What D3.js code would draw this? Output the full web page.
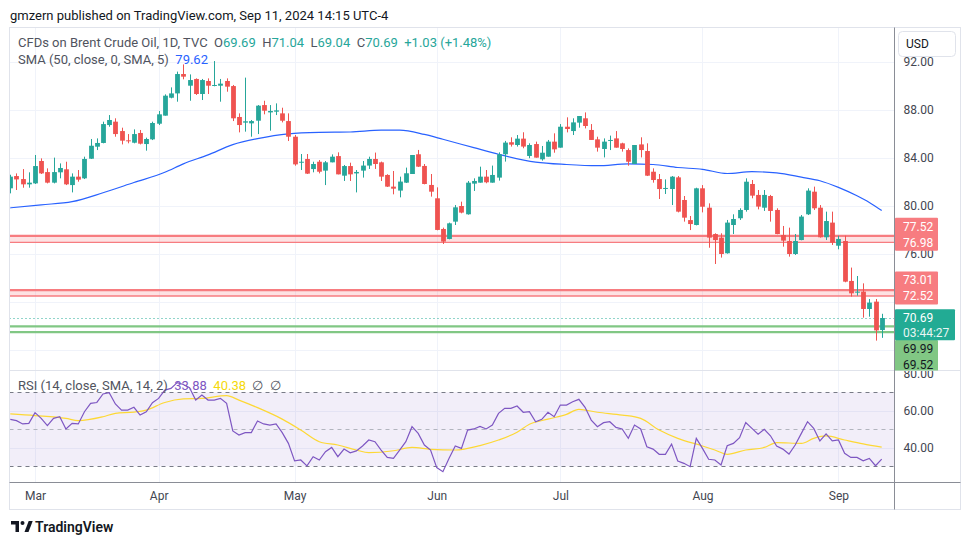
<!DOCTYPE html>
<html><head><meta charset="utf-8">
<script src="https://cdn.jsdelivr.net/npm/d3@7/dist/d3.min.js"></script>
<style>
html,body{margin:0;padding:0;background:#fff;}
svg{display:block;font-family:Roboto,"Noto Sans",sans-serif;}
</style></head><body>
<svg id="c" width="970" height="545"></svg>
<script>
// ---------- DATA ----------
const opens=[81.47,82.49,82.24,81.80,81.88,83.74,82.82,81.94,82.80,83.05,81.74,82.44,82.30,83.93,84.93,85.24,86.73,87.01,86.23,85.46,85.26,86.07,85.15,85.54,86.84,87.51,89.00,89.36,90.97,90.00,90.56,89.31,90.39,90.00,90.00,90.39,89.97,87.40,86.93,86.87,87.09,88.39,87.78,87.84,87.70,87.06,85.76,83.60,83.91,83.07,83.68,82.94,83.63,84.15,82.52,83.32,82.71,82.94,83.36,83.91,83.63,82.58,81.61,81.28,81.94,82.66,84.30,83.33,81.75,80.64,78.09,77.26,78.70,80.00,79.31,81.86,81.94,82.44,81.94,82.36,84.30,85.30,85.07,85.60,84.16,85.15,83.88,84.10,85.35,84.85,86.59,86.23,86.93,87.29,86.32,85.54,84.74,85.43,85.62,85.21,84.65,83.49,85.12,84.57,82.85,82.24,81.44,81.41,82.38,80.50,78.83,78.42,81.47,79.86,77.67,77.37,76.07,78.42,78.98,79.67,81.83,80.92,79.86,80.83,79.67,77.59,77.09,76.01,77.17,79.31,81.19,79.86,77.40,78.62,76.70,77.09,73.77,72.80,72.88,71.44,72.05,69.69];
const highs=[82.60,82.71,83.07,82.80,84.24,83.96,83.13,84.02,83.54,83.68,82.71,82.99,84.10,85.57,85.62,87.01,87.56,87.29,86.51,85.98,86.37,86.32,85.68,87.01,87.90,89.28,89.86,91.17,91.77,90.94,90.61,90.56,90.61,92.05,90.56,90.61,90.06,87.70,90.67,87.15,88.39,88.75,88.39,88.53,88.17,87.70,85.90,84.32,84.32,83.68,83.82,83.74,84.29,84.46,83.41,83.60,82.99,83.74,84.10,84.44,83.69,82.64,82.91,82.44,83.19,84.24,84.66,83.49,82.66,81.55,78.20,78.62,80.08,80.36,82.08,82.30,83.27,82.99,83.36,84.46,85.41,85.71,85.90,86.13,85.21,85.35,84.99,85.49,86.04,86.81,87.37,87.29,87.48,87.78,86.81,85.76,85.62,85.85,86.23,85.26,84.79,85.07,85.71,85.21,83.13,82.66,82.21,82.49,82.49,80.83,79.17,81.52,81.74,80.22,77.73,77.73,78.84,79.31,79.81,82.30,82.16,81.33,81.33,80.92,79.81,78.34,78.20,77.67,79.25,81.47,81.61,80.08,79.53,79.53,77.53,77.53,74.88,74.18,73.57,72.27,72.27,71.04];
const lows=[81.05,81.33,81.52,81.52,81.83,82.66,81.88,81.88,82.30,81.74,81.13,82.02,82.24,83.91,84.65,85.21,86.59,85.76,85.12,85.21,85.21,85.12,84.60,85.48,86.73,87.51,88.95,88.67,90.53,88.75,89.23,88.81,89.31,89.95,88.67,89.50,87.06,86.12,86.18,85.76,85.98,87.62,86.26,87.56,86.95,85.40,83.35,82.99,82.66,82.80,82.71,81.74,83.63,82.63,82.08,82.08,81.13,82.36,83.08,83.08,82.08,81.58,80.97,80.72,81.91,82.66,83.24,81.80,80.78,77.98,76.84,77.23,78.42,79.39,79.28,81.25,81.94,81.89,81.94,82.11,83.69,84.94,84.94,84.80,83.97,84.02,83.77,84.10,84.43,84.85,86.12,85.90,86.51,86.45,85.49,84.52,84.04,84.65,84.85,84.52,83.35,83.49,84.04,82.49,81.94,80.58,81.00,80.08,79.47,78.70,78.00,78.39,79.47,76.53,75.18,75.71,76.04,77.67,78.84,79.53,80.64,79.72,79.59,78.70,77.65,76.62,75.79,75.93,77.15,79.25,79.67,77.37,77.17,76.76,76.40,73.66,72.47,72.55,70.72,70.80,68.81,69.04];
const closes=[82.44,82.21,81.80,81.94,83.32,82.71,81.94,82.82,83.16,81.80,82.44,82.19,83.91,85.01,85.24,86.81,87.15,85.98,85.43,85.40,85.98,85.18,85.57,86.90,87.62,89.17,89.36,90.97,90.75,90.47,89.31,90.47,90.00,90.06,90.17,89.92,87.29,86.73,87.04,87.06,88.34,87.92,87.90,87.95,87.09,85.76,83.46,83.68,82.69,83.49,82.85,83.63,84.10,82.63,83.32,82.63,82.83,83.36,83.91,83.49,82.44,81.61,81.44,82.03,82.72,84.24,83.27,81.83,81.19,78.01,77.04,78.56,79.89,79.45,81.94,82.08,82.44,81.97,82.58,84.30,85.27,85.10,85.60,84.94,85.07,84.02,84.43,85.35,84.71,86.59,86.40,86.95,87.48,86.65,85.49,84.85,85.35,85.49,84.85,84.74,83.68,85.07,84.65,82.52,82.16,81.41,81.50,82.44,79.53,79.03,78.50,81.47,79.94,77.37,77.17,76.01,78.62,78.92,79.67,82.02,80.86,79.95,80.92,79.59,77.67,77.12,76.01,77.09,79.12,81.28,79.81,77.40,78.75,76.95,77.26,73.71,72.74,72.88,71.44,71.97,69.66,70.69];

// SMA(50) read at sampled bars
const smaIdx=[0,5,10,15,20,25,28,32,36,40,45,50,55,60,63,67,70,75,79,85,90,95,100,104,108,112,116,120,124,128,131,134,137,139,141];
const smaVal=[79.85,80.10,80.36,81.10,81.95,82.80,83.50,84.25,85.10,85.60,86.00,86.12,86.15,86.30,86.30,85.95,85.55,84.85,84.30,83.65,83.45,83.35,83.50,83.45,83.20,83.05,82.70,82.85,82.75,82.40,82.10,81.55,80.85,80.30,79.62];

const rsiVals=[55.4,54.7,52.9,53.2,59.0,55.9,52.0,55.9,56.8,50.2,53.2,52.9,59.5,64.0,64.5,69.1,69.8,63.7,60.4,60.4,61.9,57.7,59.5,64.4,66.7,71.2,72.1,75.2,74.2,72.5,65.8,68.5,65.8,65.8,66.7,64.0,49.1,46.9,48.2,48.2,54.5,52.9,52.3,52.9,48.2,42.4,32.9,33.4,30.2,35.2,33.4,37.9,40.2,35.2,39.3,37.3,38.3,41.0,44.2,43.3,38.8,34.8,34.3,38.8,43.3,51.4,47.8,41.5,38.8,29.3,27.1,34.3,41.0,39.7,49.6,50.2,51.6,50.2,52.3,58.6,61.3,61.3,62.6,59.2,59.5,54.1,55.4,59.2,56.8,63.1,63.1,64.9,66.2,61.9,55.0,51.4,53.6,54.1,51.0,50.2,45.1,52.3,50.2,40.6,39.3,36.5,36.5,42.0,32.9,31.6,29.8,45.1,39.7,33.8,33.4,30.7,41.1,42.4,45.5,53.6,50.5,47.3,50.0,46.5,41.0,39.3,36.6,41.5,47.8,54.1,50.5,43.7,47.5,43.7,44.2,37.0,34.8,34.8,33.0,34.3,30.3,33.88];

const rsiSmaIdx=[0,4,9,11,15,17,20,22,25,28,31,35,37,40,44,47,50,53,56,58,62,65,68,72,76,79,82,84,87,90,92,95,99,102,105,108,112,114,116,119,122,124,128,130,132,135,138,141];
const rsiSmaVal=[58.3,57.4,55.9,54.7,56.8,58.6,59.3,60.4,64.5,66.4,66.7,68.2,65.8,61.7,55.5,49.6,43.3,41.5,38.8,37.4,38.4,40.2,39.2,38.8,41.2,44.2,48.4,52.7,55.5,58.1,60.8,59.2,57.7,55.9,49.6,45.1,41.0,38.8,36.5,38.8,40.2,42.8,42.4,45.1,46.4,44.2,42.1,40.38];

const monthLabels=["Mar","Apr","May","Jun","Jul","Aug","Sep"];
const monthIdx=[4,24,46,69,89,112,134];
const gridTicks=[92,88,84,80,76,72,68];
const priceTicks=[92,88,84,80,76];
const rsiTicks=[80,60,40];
const rsiGrid=[60,40];
const redZoneA=[77.52,76.98];
const redZoneB=[73.01,72.52];
const greenZone=[69.99,69.52];
const lastClose=70.69;
const countdown="03:44:27";

// ---------- LAYOUT ----------
const svg=d3.select("#c");
const plotL=9.5, plotR=894.5, mainTop=27.5, mainBot=370.5, rsiBot=482.5, outerB=509.5, outerR=960.5;
const UP="#26a69a", DN="#ef5350";
const n=closes.length;
const x=d3.scaleLinear().domain([0,n-1]).range([10.3,881.7]);
const y=d3.scaleLinear().domain([68,92]).range([350.36,61.64]);
const yr=d3.scaleLinear().domain([30,70]).range([466.3,392.3]);

svg.append("rect").attr("width",970).attr("height",545).attr("fill","#fff");

const defs=svg.append("defs");
defs.append("clipPath").attr("id","cm").append("rect").attr("x",plotL).attr("y",mainTop).attr("width",plotR-plotL).attr("height",mainBot-mainTop);
defs.append("clipPath").attr("id","cr").append("rect").attr("x",plotL).attr("y",mainBot+0.5).attr("width",plotR-plotL).attr("height",rsiBot-mainBot-1);
defs.append("clipPath").attr("id","cra").append("rect").attr("x",plotR).attr("y",mainBot+0.5).attr("width",outerR-plotR).attr("height",rsiBot-mainBot-1);
defs.append("clipPath").attr("id","cma").append("rect").attr("x",plotR).attr("y",mainTop).attr("width",outerR-plotR).attr("height",mainBot-mainTop);

// header
svg.append("text").attr("x",10).attr("y",15).attr("dy","0.35em").attr("font-size",13).attr("fill","#131722")
  .text("gmzern published on TradingView.com, Sep 11, 2024 14:15 UTC-4");

// grid
const grid=svg.append("g").attr("stroke","#f0f3fa").attr("stroke-width",1);
grid.selectAll(".vg").data(monthIdx).join("line").attr("x1",d=>Math.round(x(d))+0.5).attr("x2",d=>Math.round(x(d))+0.5).attr("y1",mainTop).attr("y2",rsiBot);
grid.selectAll(".hg").data(gridTicks).join("line").attr("x1",plotL).attr("x2",plotR).attr("y1",d=>Math.round(y(d))+0.5).attr("y2",d=>Math.round(y(d))+0.5);
grid.selectAll(".rg").data(rsiGrid).join("line").attr("x1",plotL).attr("x2",plotR).attr("y1",d=>Math.round(yr(d))+0.5).attr("y2",d=>Math.round(yr(d))+0.5);

// main pane
const gm=svg.append("g").attr("clip-path","url(#cm)");
function zone(v,fill,w1,w2,col){
  if(fill) gm.append("rect").attr("x",plotL).attr("width",plotR-plotL).attr("y",y(v[0])).attr("height",y(v[1])-y(v[0])).attr("fill",fill);
  gm.append("line").attr("x1",plotL).attr("x2",plotR).attr("y1",y(v[0])).attr("y2",y(v[0])).attr("stroke",col).attr("stroke-width",w1);
  gm.append("line").attr("x1",plotL).attr("x2",plotR).attr("y1",y(v[1])).attr("y2",y(v[1])).attr("stroke",col).attr("stroke-width",w2);
}
zone(redZoneA,"rgba(247,124,128,0.22)",2.2,1.3,"#f77c80");
zone(redZoneB,"rgba(247,124,128,0.22)",2.2,1.3,"#f77c80");
zone(greenZone,null,2.2,2.2,"#81c784");

gm.append("line").attr("x1",plotL).attr("x2",plotR).attr("y1",Math.round(y(lastClose))+0.5).attr("y2",Math.round(y(lastClose))+0.5)
  .attr("stroke","#22ab94").attr("stroke-width",1).attr("stroke-dasharray","1,3");

// SMA line
const smaPts=smaIdx.map((d,k)=>[d,smaVal[k]]);
gm.append("path").attr("d",d3.line().x(d=>x(d[0])).y(d=>y(d[1])).curve(d3.curveMonotoneX)(smaPts))
  .attr("fill","none").attr("stroke","#2962ff").attr("stroke-width",1.2);

// candles
const bars=d3.range(n).map(i=>({i,o:opens[i],h:highs[i],l:lows[i],c:closes[i]}));
const cg=gm.append("g");
cg.selectAll(".w").data(bars).join("line")
  .attr("x1",d=>Math.round(x(d.i))+0.5).attr("x2",d=>Math.round(x(d.i))+0.5)
  .attr("y1",d=>y(d.h)).attr("y2",d=>y(d.l))
  .attr("stroke",d=>d.c>=d.o?UP:DN).attr("stroke-width",1);
cg.selectAll(".b").data(bars).join("rect")
  .attr("x",d=>Math.round(x(d.i))+0.5-2.4).attr("width",4.8)
  .attr("y",d=>y(Math.max(d.o,d.c))).attr("height",d=>Math.max(1,Math.abs(y(d.o)-y(d.c))))
  .attr("fill",d=>d.c>=d.o?UP:DN);

// RSI pane
const gr=svg.append("g").attr("clip-path","url(#cr)");
gr.append("rect").attr("x",plotL).attr("width",plotR-plotL).attr("y",yr(70)).attr("height",yr(30)-yr(70)).attr("fill","rgba(126,87,194,0.1)");
[[70,"#787b86"],[50,"#b2b5be"],[30,"#787b86"]].forEach(([v,c])=>{
  gr.append("line").attr("x1",plotL).attr("x2",plotR).attr("y1",Math.round(yr(v))+0.5).attr("y2",Math.round(yr(v))+0.5)
    .attr("stroke",c).attr("stroke-dasharray","4,4").attr("stroke-width",1);
});
const rsiSmaPts=rsiSmaIdx.map((d,k)=>[d,rsiSmaVal[k]]);
gr.append("path").attr("d",d3.line().x(d=>x(d[0])).y(d=>yr(d[1])).curve(d3.curveMonotoneX)(rsiSmaPts))
  .attr("fill","none").attr("stroke","#fdd835").attr("stroke-width",1.2);
gr.append("path").attr("d",d3.line().x((d,i)=>x(i)).y(d=>yr(d))(rsiVals))
  .attr("fill","none").attr("stroke","#7e57c2").attr("stroke-width",1.2);

// frame lines
svg.append("rect").attr("x",plotL).attr("y",mainTop).attr("width",outerR-plotL).attr("height",outerB-mainTop).attr("fill","none").attr("stroke","#e0e3eb");
svg.append("line").attr("x1",plotL).attr("x2",outerR).attr("y1",mainBot).attr("y2",mainBot).attr("stroke","#e0e3eb");
svg.append("line").attr("x1",plotL).attr("x2",outerR).attr("y1",rsiBot).attr("y2",rsiBot).attr("stroke","#8a8d96");
svg.append("line").attr("x1",plotR).attr("x2",plotR).attr("y1",mainTop).attr("y2",outerB).attr("stroke","#8a8d96");

// price axis (clip applied on an untransformed wrapper)
const pa=svg.append("g").attr("clip-path","url(#cma)").append("g").attr("transform",`translate(${plotR},0)`)
  .call(d3.axisRight(y).tickValues(priceTicks).tickFormat(d3.format(".2f")).tickSize(0).tickPadding(9));
pa.select(".domain").remove();
pa.selectAll("text").attr("font-size",12).attr("fill","#434651").attr("font-family","Roboto,sans-serif");

// rsi axis
const ra=svg.append("g").attr("clip-path","url(#cra)").append("g").attr("transform",`translate(${plotR},0)`)
  .call(d3.axisRight(yr).tickValues(rsiTicks).tickFormat(d3.format(".2f")).tickSize(0).tickPadding(9));
ra.select(".domain").remove();
ra.selectAll("text").attr("font-size",12).attr("fill","#434651").attr("font-family","Roboto,sans-serif");

// time axis
const ta=svg.append("g").attr("transform",`translate(0,${rsiBot})`)
  .call(d3.axisBottom(x).tickValues(monthIdx).tickFormat((d,k)=>monthLabels[k]).tickSize(0).tickPadding(9));
ta.select(".domain").remove();
ta.selectAll("text").attr("font-size",12).attr("fill","#434651").attr("font-family","Roboto,sans-serif");

// USD box
svg.append("rect").attr("x",898.5).attr("y",31.5).attr("width",57).attr("height",25).attr("rx",4).attr("fill","#fff").attr("stroke","#e0e3eb");
svg.append("text").attr("x",906).attr("y",44).attr("dy","0.35em").attr("font-size",12).attr("fill","#131722").text("USD");

// price label boxes
const lb=svg.append("g").attr("clip-path","url(#cma)");
function pairBox(top,w,fill,col,t1,t2,col2){
  lb.append("rect").attr("x",plotR+0.5).attr("y",top).attr("width",w).attr("height",33).attr("fill",fill).attr("rx",1);
  lb.append("text").attr("x",903).attr("y",top+8.7).attr("dy","0.35em").attr("font-size",12).attr("fill",col).text(t1);
  lb.append("text").attr("x",903).attr("y",top+24.7).attr("dy","0.35em").attr("font-size",12).attr("fill",col2||col).text(t2);
}
const f2=d3.format(".2f");
pairBox(y(redZoneA[1])+8.5-33,43,"#f77c80","#fff",f2(redZoneA[0]),f2(redZoneA[1]));
pairBox(y(redZoneB[1])+8.5-33,43,"#f77c80","#fff",f2(redZoneB[0]),f2(redZoneB[1]));
pairBox(340,43,"#81c784","#131722",f2(greenZone[0]),f2(greenZone[1]));
lb.append("rect").attr("x",plotR+0.5).attr("y",y(lastClose)-8.7).attr("width",60).attr("height",31).attr("fill","#22ab94").attr("rx",1);
lb.append("text").attr("x",903).attr("y",y(lastClose)).attr("dy","0.35em").attr("font-size",12).attr("fill","#fff").text(f2(lastClose));
lb.append("text").attr("x",903).attr("y",y(lastClose)+14.5).attr("dy","0.35em").attr("font-size",12).attr("fill","#e8f5f3").text(countdown);

// legends
function legend(yy,parts){
  const t=svg.append("text").attr("x",18).attr("y",yy).attr("dy","0.35em").attr("font-size",13).attr("xml:space","preserve");
  parts.forEach(([s,c])=>t.append("tspan").attr("fill",c).text(s));
}
const G="#50535e";
legend(42,[["CFDs on Brent Crude Oil, 1D, TVC  ",G],["O",G],[f2(opens[n-1]),UP],["  H",G],[f2(highs[n-1]),UP],["  L",G],[f2(lows[n-1]),UP],["  C",G],[f2(closes[n-1]),UP],["  +1.03 (+1.48%)",UP]]);
legend(59,[["SMA (50, close, 0, SMA, 5)  ",G],[f2(smaVal[smaVal.length-1]),"#2962ff"]]);
legend(385,[["RSI (14, close, SMA, 14, 2)  ",G],[f2(rsiVals[n-1]),"#7e57c2"],["  ",G],[f2(rsiSmaVal[rsiSmaVal.length-1]),"#f5d90a"],["  ∅  ∅",G]]);

// TradingView logo
const lg=svg.append("g").attr("fill","#131722");
lg.append("path").attr("d","M11,521 h8 v11 h-3.5 v-7.5 h-4.5 z");
lg.append("circle").attr("cx",22.5).attr("cy",523).attr("r",2);
lg.append("path").attr("d","M24.5,532 l4.2,-11 h4 l-4.2,11 z");
svg.append("text").attr("x",35).attr("y",527).attr("dy","0.35em").attr("font-size",14).attr("font-weight",600).attr("fill","#131722").text("TradingView");
</script>
</body></html>
